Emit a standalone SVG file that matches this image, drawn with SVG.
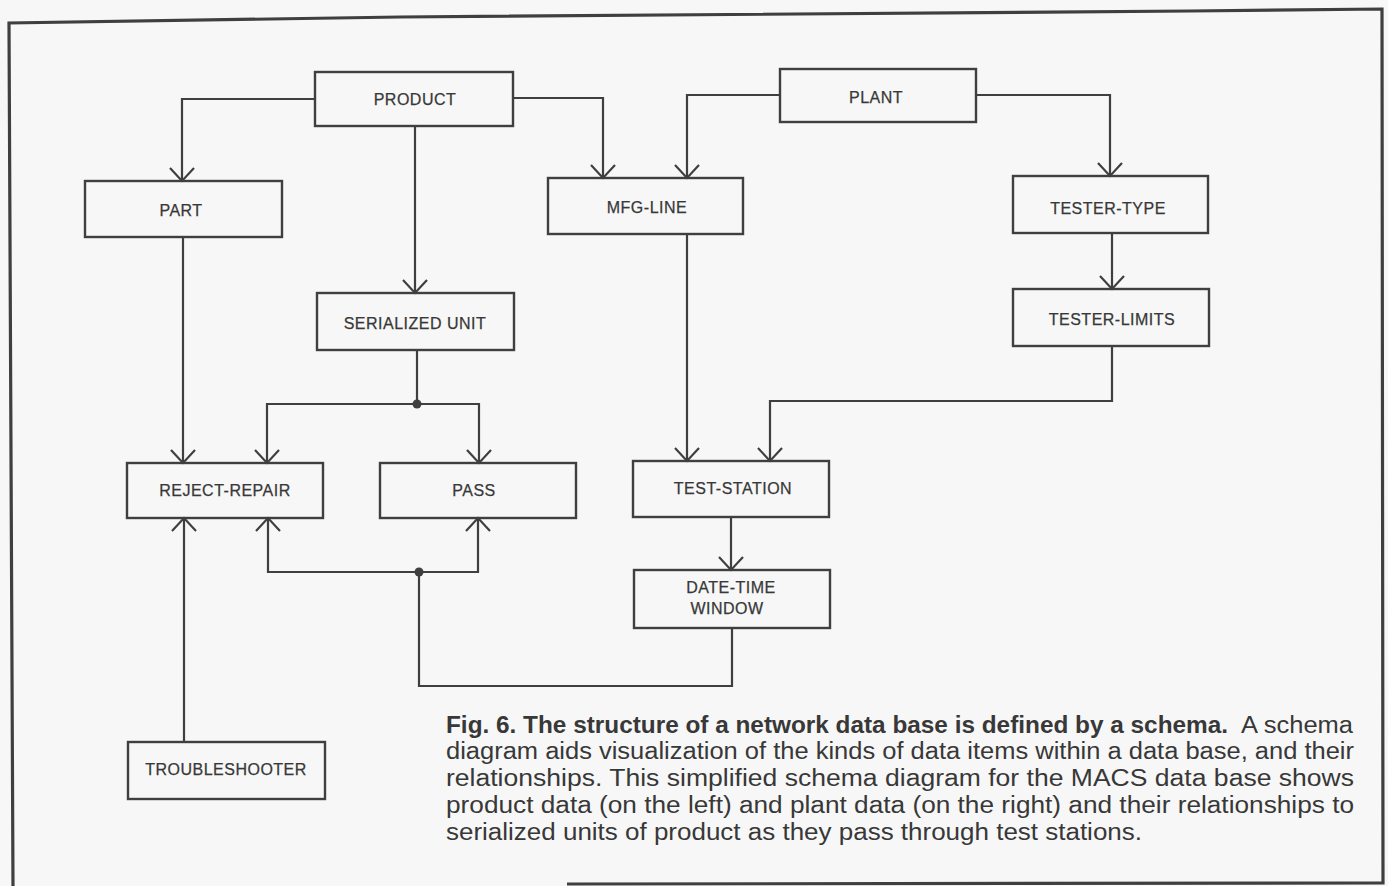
<svg xmlns="http://www.w3.org/2000/svg" width="1388" height="886" viewBox="0 0 1388 886">
  <style>
    .frame { fill: none; stroke: #3f3f3f; stroke-width: 3.2; stroke-linejoin: miter; }
    .box { fill: none; stroke: #3f3f3f; stroke-width: 2.4; }
    .link { fill: none; stroke: #3f3f3f; stroke-width: 2.2; }
    .label { font-family: "Liberation Sans", Arial, sans-serif; font-size: 16px; letter-spacing: 0.5px; fill: #383838; stroke: #383838; stroke-width: 0.25px; text-anchor: middle; }
    .cap { font-family: "Liberation Sans", Arial, sans-serif; font-size: 23px; fill: #383838; }
    .capb { font-weight: bold; }
    .dot { fill: #3f3f3f; }
  </style>
  <defs>
    <marker id="arrow" viewBox="-16 -16 32 32" refX="0" refY="0" markerWidth="32" markerHeight="32" markerUnits="userSpaceOnUse" orient="auto">
      <path d="M-13,-12 L0,0 L-13,12" fill="none" stroke="#3f3f3f" stroke-width="2.2"/>
    </marker>
  </defs>

  <rect x="0" y="0" width="1388" height="886" fill="#f7f7f7"/>

  <!-- outer figure frame -->
  <polyline class="frame" points="13,886 9,23 400,17 1190,11 1382,9 1383,883 567,884"/>

  <!-- connectors between record types -->
  <g id="connectors">
    <path class="link" d="M315,99 H182 V181" marker-end="url(#arrow)"/>
    <path class="link" d="M513,98 H603 V178" marker-end="url(#arrow)"/>
    <path class="link" d="M780,95 H687 V178" marker-end="url(#arrow)"/>
    <path class="link" d="M976,95 H1110 V176" marker-end="url(#arrow)"/>
    <path class="link" d="M415,126 V293" marker-end="url(#arrow)"/>
    <path class="link" d="M1112,233 V289" marker-end="url(#arrow)"/>
    <path class="link" d="M1112,346 V401 H770 V461" marker-end="url(#arrow)"/>
    <path class="link" d="M687,234 V461" marker-end="url(#arrow)"/>
    <path class="link" d="M731,517 V570" marker-end="url(#arrow)"/>
    <path class="link" d="M183,237 V463" marker-end="url(#arrow)"/>
    <path class="link" d="M417,350 V404"/>
    <path class="link" d="M417,404 H267 V463" marker-end="url(#arrow)"/>
    <path class="link" d="M417,404 H479 V463" marker-end="url(#arrow)"/>
    <circle class="dot" cx="417" cy="404" r="4.5"/>
    <path class="link" d="M732,628 V686 H419 V572"/>
    <path class="link" d="M419,572 H268 V518" marker-end="url(#arrow)"/>
    <path class="link" d="M419,572 H478 V518" marker-end="url(#arrow)"/>
    <circle class="dot" cx="419" cy="572" r="4.5"/>
    <path class="link" d="M184,742 V518" marker-end="url(#arrow)"/>
  </g>

  <g id="product">
    <rect class="box" x="315" y="72" width="198" height="54"/>
    <text class="label" x="415" y="105">PRODUCT</text>
  </g>
  <g id="plant">
    <rect class="box" x="780" y="69" width="196" height="53"/>
    <text class="label" x="876" y="103">PLANT</text>
  </g>
  <g id="part">
    <rect class="box" x="85" y="181" width="197" height="56"/>
    <text class="label" x="181" y="216">PART</text>
  </g>
  <g id="mfg-line">
    <rect class="box" x="548" y="178" width="195" height="56"/>
    <text class="label" x="647" y="213">MFG-LINE</text>
  </g>
  <g id="tester-type">
    <rect class="box" x="1013" y="176" width="195" height="57"/>
    <text class="label" x="1108" y="214">TESTER-TYPE</text>
  </g>
  <g id="tester-limits">
    <rect class="box" x="1013" y="289" width="196" height="57"/>
    <text class="label" x="1112" y="325">TESTER-LIMITS</text>
  </g>
  <g id="serialized-unit">
    <rect class="box" x="317" y="293" width="197" height="57"/>
    <text class="label" x="415" y="329">SERIALIZED UNIT</text>
  </g>
  <g id="reject-repair">
    <rect class="box" x="127" y="463" width="196" height="55"/>
    <text class="label" x="225" y="496">REJECT-REPAIR</text>
  </g>
  <g id="pass">
    <rect class="box" x="380" y="463" width="196" height="55"/>
    <text class="label" x="474" y="496">PASS</text>
  </g>
  <g id="test-station">
    <rect class="box" x="633" y="461" width="196" height="56"/>
    <text class="label" x="733" y="494">TEST-STATION</text>
  </g>
  <g id="date-time-window">
    <rect class="box" x="634" y="570" width="196" height="58"/>
    <text class="label" x="731" y="593">DATE-TIME</text>
    <text class="label" x="727" y="614">WINDOW</text>
  </g>
  <g id="troubleshooter">
    <rect class="box" x="128" y="742" width="197" height="57"/>
    <text class="label" x="226" y="775">TROUBLESHOOTER</text>
  </g>

  <!-- figure caption -->
  <g id="caption">
    <text class="cap capb" x="446" y="733" textLength="782" lengthAdjust="spacingAndGlyphs">Fig. 6.  The structure of a network data base is defined by a schema.</text>
    <text class="cap" x="1241" y="733" textLength="112" lengthAdjust="spacingAndGlyphs">A schema</text>
    <text class="cap" x="446" y="759" textLength="908" lengthAdjust="spacingAndGlyphs">diagram aids visualization of the kinds of data items within a data base, and their</text>
    <text class="cap" x="446" y="786" textLength="908" lengthAdjust="spacingAndGlyphs">relationships. This simplified schema diagram for the MACS data base shows</text>
    <text class="cap" x="446" y="813" textLength="908" lengthAdjust="spacingAndGlyphs">product data (on the left) and plant data (on the right) and their relationships to</text>
    <text class="cap" x="446" y="840" textLength="696" lengthAdjust="spacingAndGlyphs">serialized units of product as they pass through test stations.</text>
  </g>
</svg>
